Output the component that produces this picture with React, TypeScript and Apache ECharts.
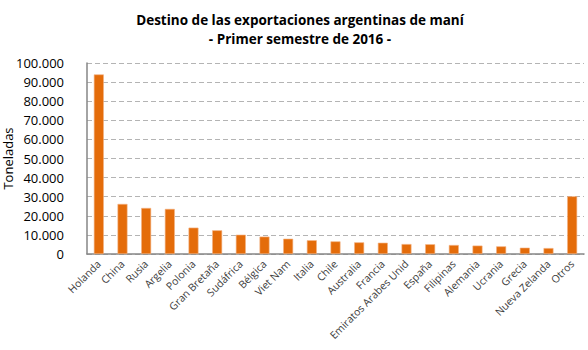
import React, { useEffect, useRef } from "react";
import * as echarts from "echarts";

const categories = [
  "Holanda", "China", "Rusia", "Argelia", "Polonia", "Gran Bretaña", "Sudáfrica",
  "Bélgica", "Viet Nam", "Italia", "Chile", "Australia", "Francia",
  "Emiratos Arabes Unid", "España", "Filipinas", "Alemania", "Ucrania", "Grecia",
  "Nueva Zelanda", "Otros",
];
const toneladas = [
  94000, 26200, 24100, 23600, 13800, 12400, 10100, 9100, 8000, 7200, 6600, 6100,
  5900, 5200, 5100, 4700, 4400, 4000, 3300, 3100, 30200,
];
const titleLines = ["Destino de las exportaciones argentinas de maní", "- Primer semestre de 2016 -"];
const yAxisName = "Toneladas";

const fmt = (v: number) => v.toLocaleString("de-DE");

export default function App() {
  const ref = useRef<HTMLDivElement>(null);
  useEffect(() => {
    if (!ref.current) return;
    const chart = echarts.init(ref.current, null, { renderer: "svg" });
    const font = "'Open Sans', 'Noto Sans', sans-serif";
    chart.setOption({
      animation: false,
      backgroundColor: "#ffffff",
      title: {
        text: titleLines.join("\n"),
        left: 295,
        textAlign: "center",
        top: 5,
        textStyle: { fontFamily: font, fontSize: 13.5, fontWeight: "bold", color: "#000", lineHeight: 19 },
      },
      grid: { left: 87, right: 4, top: 63, bottom: 96, containLabel: false, outerBoundsMode: "none" },
      xAxis: {
        type: "category",
        data: categories,
        axisLine: { lineStyle: { color: "#868686", width: 1.5 } },
        axisTick: { show: false },
        axisLabel: {
          interval: 0,
          rotate: 45,
          fontFamily: font,
          fontSize: 10.5,
          color: "#404040",
          margin: 8,
        },
      },
      yAxis: {
        type: "value",
        min: 0,
        max: 100000,
        interval: 10000,
        name: yAxisName,
        nameLocation: "middle",
        nameGap: 73,
        nameRotate: 90,
        nameMoveOverlap: false,
        nameTextStyle: { fontFamily: font, fontSize: 13, color: "#000" },
        axisLine: { show: true, lineStyle: { color: "#868686", width: 1.5 } },
        axisTick: { show: false },
        axisLabel: { formatter: fmt, fontFamily: font, fontSize: 13, color: "#000", margin: 23 },
        splitLine: { lineStyle: { color: "#b4b4b4", type: [5, 3], width: 1 } },
      },
      series: [
        {
          type: "bar",
          data: toneladas,
          barWidth: "42%",
          itemStyle: { color: "#E46C0A", borderColor: "#F4B183", borderWidth: 0.6 },
        },
      ],
    });
    return () => chart.dispose();
  }, []);
  return <div ref={ref} style={{ width: 588, height: 350, position: "absolute", left: 0, top: 0 }} />;
}
